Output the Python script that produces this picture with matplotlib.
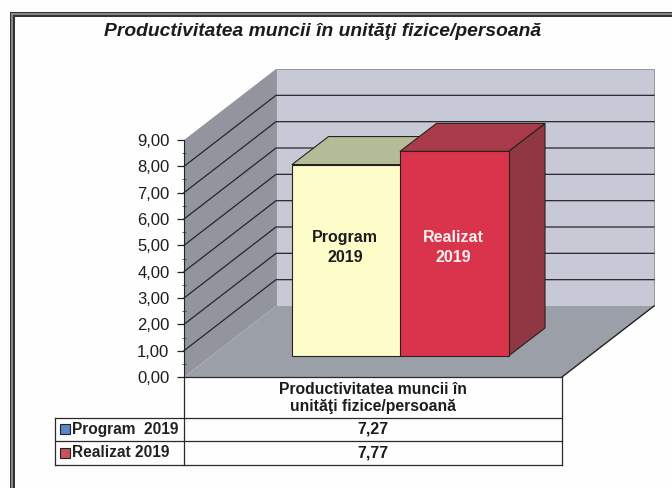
import numpy as np
import matplotlib
matplotlib.use('Agg')
import matplotlib.pyplot as plt
from matplotlib.patches import Polygon

plt.rcParams['font.family'] = ['Liberation Sans', 'DejaVu Sans']

title = 'Productivitatea muncii în unităţi fizice/persoană'
category = 'Productivitatea muncii în\nunităţi fizice/persoană'
series = ['Program  2019', 'Realizat 2019']
bar_labels = ['Program\n2019', 'Realizat\n2019']
values = [7.27, 7.77]
value_labels = ['7,27', '7,77']
y_ticks = [0, 1, 2, 3, 4, 5, 6, 7, 8, 9]

# colours: front, top, side of each bar, then legend swatch
front_colors = ['#fdfdc9', '#d9344c']
top_colors = ['#b3bc97', '#a93a49']
side_colors = ['#a8a878', '#8f3742']
swatch_colors = ['#5b86c9', '#c9525c']
text_colors = ['#1c1c1c', '#fbf3f0']

# layout in pixels of the 672x488 picture
W, H = 672, 488
Y0, Y9 = 377, 140
K = (Y0 - Y9) / 9


def vy(py):
    return (Y0 - py) / K


fig = plt.figure(figsize=(W / 100, H / 100), dpi=100, facecolor='#fefefe')
ax = fig.add_axes([0, 0, 1, 1], facecolor='none')
ax.set_xlim(0, W)
ax.set_ylim(vy(H), vy(0))

# walls, depth offset of the box
x0, x1 = 184, 562
dx, dv = 92, 71 / K
ax.add_patch(Polygon([(x0 + dx, dv), (x1 + dx, dv), (x1 + dx, 9 + dv), (x0 + dx, 9 + dv)],
                     facecolor='#c7cad6', edgecolor='#8a8a90', lw=0.6, zorder=1))
ax.add_patch(Polygon([(x0, 0), (x0 + dx, dv), (x0 + dx, 9 + dv), (x0, 9)],
                     facecolor='#92959e', edgecolor='none', zorder=1))
ax.add_patch(Polygon([(x0, 0), (x1, 0), (x1 + dx, dv), (x0 + dx, dv)],
                     facecolor='#9b9fa8', edgecolor='none', zorder=1))
ax.plot([x1, x1 + dx], [0, dv], color='#222', lw=1.0, zorder=2)

for t in y_ticks[1:-1]:
    ax.plot([x0, x0 + dx, x1 + dx], [t, t + dv, t + dv], color='#26262c', lw=0.9, zorder=2)

# 3d bars
bar_x = [292, 400]
bar_w = 108.5
base = vy(356)
bdx, bdv = 36.5, 28 / K
for i, v in enumerate(values):
    l, r = bar_x[i], bar_x[i] + bar_w
    top = base + v
    ax.add_patch(Polygon([(r, base), (r + bdx, base + bdv), (r + bdx, top + bdv), (r, top)],
                         facecolor=side_colors[i], edgecolor='#2a2020', lw=0.8, zorder=3 + i))
    ax.add_patch(Polygon([(l, top), (r, top), (r + bdx, top + bdv), (l + bdx, top + bdv)],
                         facecolor=top_colors[i], edgecolor='#2a2020', lw=0.8, zorder=3 + i))
    ax.add_patch(Polygon([(l, base), (r, base), (r, top), (l, top)],
                         facecolor=front_colors[i], edgecolor='#2a2020', lw=0.8, zorder=3 + i))
    ax.text((l + r) / 2 - 1, vy(247.5), bar_labels[i], fontsize=11.5, fontweight='bold', ha='center',
            va='center', color=text_colors[i], linespacing=1.4, zorder=6)

# value axis
for name in ['top', 'right', 'bottom']:
    ax.spines[name].set_visible(False)
ax.spines['left'].set_position(('data', x0))
ax.spines['left'].set_bounds(0, 9)
ax.spines['left'].set_color('#222')
ax.spines['left'].set_zorder(7)
ax.set_xticks([])
ax.set_yticks(y_ticks)
ax.set_yticklabels([f'{t:.2f}'.replace('.', ',') for t in y_ticks], fontsize=12, color='#1c1c1c')
ax.set_yticks(np.array(y_ticks[:-1]) + 0.5, minor=True)
ax.tick_params(axis='y', which='major', length=5, width=0.9, color='#222', pad=5.5)
ax.tick_params(axis='y', which='minor', length=3, width=0.6, color='#444', direction='inout')

# data table under the chart
t_left = 55
row_y = [417.5, 441, 464.5]
line = dict(color='#2a2a2a', lw=0.9, zorder=7)
ax.plot([x0, x1], [0, 0], **line)
ax.plot([x0, x0], [0, vy(row_y[2])], **line)
ax.plot([x1, x1], [0, vy(row_y[2])], **line)
ax.plot([t_left, t_left], [vy(row_y[0]), vy(row_y[2])], **line)
for y in row_y:
    ax.plot([t_left, x1], [vy(y), vy(y)], **line)

ax.text(373, vy(398), category, fontsize=11.3, fontweight='bold', ha='center', va='center',
        color='#1c1c1c', linespacing=1.12)
for i, name in enumerate(series):
    yc = (row_y[i] + row_y[i + 1]) / 2
    ax.plot([64.5], [vy(yc)], marker='s', ms=6.5, mfc=swatch_colors[i], mec='#222', mew=0.8, ls='none')
    ax.text(72, vy(yc), name, fontsize=11.2, fontweight='bold', ha='left', va='center', color='#222')
    ax.text(373, vy(yc), value_labels[i], fontsize=11.5, fontweight='bold', ha='center', va='center',
            color='#1c1c1c')

# title and the double frame, cut off by the scan at right and bottom
ax.text(323, vy(32), title, fontsize=13.9, fontweight='bold', style='italic', ha='center', va='center',
        color='#1c1c1c')
for col, lw in [('#333338', 3.6), ('#9a9aa0', 1.15)]:
    ax.plot([12, 12, W], [vy(H), vy(14), vy(14)], color=col, lw=lw, solid_joinstyle='miter')

fig.savefig('out.png', dpi=100, facecolor=fig.get_facecolor())
